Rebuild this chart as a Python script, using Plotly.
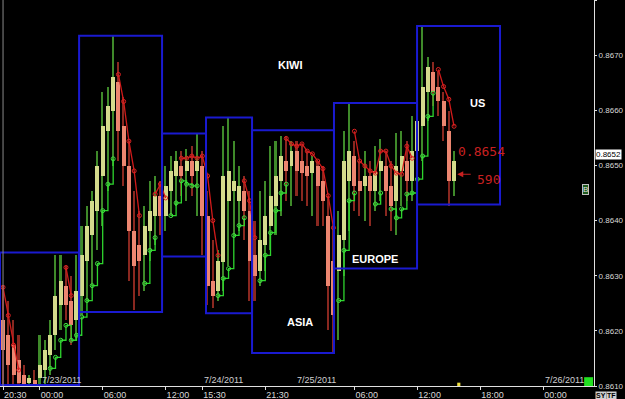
import plotly.graph_objects as go

# ---------------- data ----------------
# 30-minute bars, time axis in hours after 20:30 on 7/22/2011
hours = [i * 0.5 for i in range(87)]

open_ = [0.86219, 0.86192, 0.86174, 0.86147, 0.86120, 0.86105, 0.86111, 0.86114, 0.86129, 0.86156,
         0.86192, 0.86246, 0.86282, 0.86255, 0.86219, 0.86264, 0.86327, 0.86373, 0.86418, 0.86481,
         0.86562, 0.86598, 0.86652, 0.86571, 0.86499, 0.86382, 0.86355, 0.86337, 0.86382, 0.86409,
         0.86445, 0.86409, 0.86454, 0.86481, 0.86499, 0.86490, 0.86508, 0.86490, 0.86499, 0.86409,
         0.86291, 0.86273, 0.86324, 0.86436, 0.86454, 0.86436, 0.86454, 0.86418, 0.86337, 0.86309,
         0.86355, 0.86391, 0.86427, 0.86472, 0.86508, 0.86499, 0.86526, 0.86508, 0.86499, 0.86486,
         0.86499, 0.86472, 0.86409, 0.86327, 0.86309, 0.86364, 0.86472, 0.86517, 0.86472, 0.86463,
         0.86481, 0.86454, 0.86490, 0.86499, 0.86463, 0.86436, 0.86490, 0.86508, 0.86472, 0.86526,
         0.86571, 0.86634, 0.86670, 0.86643, 0.86616, 0.86562, 0.86472]
high = [0.86282, 0.86255, 0.86219, 0.86192, 0.86138, 0.86120, 0.86129, 0.86192, 0.86183, 0.86219,
        0.86337, 0.86337, 0.86318, 0.86300, 0.86337, 0.86391, 0.86427, 0.86454, 0.86526, 0.86634,
        0.86643, 0.86737, 0.86688, 0.86625, 0.86544, 0.86454, 0.86418, 0.86427, 0.86472, 0.86481,
        0.86472, 0.86499, 0.86517, 0.86526, 0.86526, 0.86530, 0.86535, 0.86557, 0.86526, 0.86454,
        0.86364, 0.86346, 0.86571, 0.86586, 0.86544, 0.86499, 0.86481, 0.86454, 0.86400, 0.86454,
        0.86472, 0.86535, 0.86544, 0.86553, 0.86553, 0.86544, 0.86544, 0.86535, 0.86526, 0.86517,
        0.86508, 0.86499, 0.86445, 0.86391, 0.86418, 0.86562, 0.86611, 0.86544, 0.86508, 0.86526,
        0.86508, 0.86535, 0.86548, 0.86526, 0.86508, 0.86558, 0.86562, 0.86544, 0.86589, 0.86598,
        0.86752, 0.86697, 0.86688, 0.86670, 0.86634, 0.86598, 0.86526]
low = [0.86102, 0.86100, 0.86100, 0.86100, 0.86100, 0.86100, 0.86100, 0.86100, 0.86102, 0.86120,
       0.86165, 0.86201, 0.86219, 0.86174, 0.86183, 0.86228, 0.86255, 0.86282, 0.86346, 0.86391,
       0.86454, 0.86499, 0.86508, 0.86463, 0.86291, 0.86237, 0.86264, 0.86273, 0.86327, 0.86355,
       0.86373, 0.86382, 0.86409, 0.86427, 0.86445, 0.86436, 0.86445, 0.86409, 0.86337, 0.86246,
       0.86241, 0.86255, 0.86273, 0.86318, 0.86373, 0.86382, 0.86364, 0.86255, 0.86255, 0.86282,
       0.86309, 0.86346, 0.86373, 0.86409, 0.86436, 0.86427, 0.86445, 0.86436, 0.86427, 0.86409,
       0.86391, 0.86391, 0.86201, 0.86160, 0.86183, 0.86300, 0.86382, 0.86418, 0.86409, 0.86400,
       0.86391, 0.86418, 0.86436, 0.86409, 0.86382, 0.86373, 0.86427, 0.86436, 0.86436, 0.86463,
       0.86508, 0.86580, 0.86607, 0.86589, 0.86544, 0.86427, 0.86445]
close = [0.86165, 0.86138, 0.86120, 0.86105, 0.86102, 0.86114, 0.86102, 0.86138, 0.86165, 0.86192,
         0.86264, 0.86291, 0.86246, 0.86210, 0.86273, 0.86337, 0.86391, 0.86436, 0.86499, 0.86571,
         0.86607, 0.86661, 0.86562, 0.86499, 0.86382, 0.86318, 0.86327, 0.86391, 0.86418, 0.86445,
         0.86409, 0.86463, 0.86490, 0.86508, 0.86481, 0.86508, 0.86481, 0.86508, 0.86409, 0.86282,
         0.86264, 0.86327, 0.86481, 0.86490, 0.86472, 0.86463, 0.86418, 0.86327, 0.86300, 0.86364,
         0.86409, 0.86445, 0.86481, 0.86517, 0.86490, 0.86526, 0.86490, 0.86486, 0.86481, 0.86508,
         0.86463, 0.86436, 0.86282, 0.86228, 0.86373, 0.86508, 0.86526, 0.86463, 0.86454, 0.86481,
         0.86454, 0.86490, 0.86508, 0.86454, 0.86427, 0.86499, 0.86517, 0.86472, 0.86526, 0.86580,
         0.86643, 0.86679, 0.86634, 0.86616, 0.86571, 0.86472, 0.86508]

# trailing stops (bar index -> price)
red_stop_pts = {0: 0.86279, 1: 0.86228, 2: 0.86174, 3: 0.86129,
                12: 0.86315, 13: 0.86264,
                22: 0.86665, 23: 0.86616, 24: 0.86544, 25: 0.86490, 26: 0.86409,
                29: 0.86448, 30: 0.86466, 31: 0.86441,
                34: 0.86513, 35: 0.86513, 36: 0.86517, 37: 0.86513, 38: 0.86517, 39: 0.86481,
                40: 0.86400, 41: 0.86337,
                46: 0.86472, 47: 0.86436, 48: 0.86369,
                54: 0.86549, 55: 0.86539, 56: 0.86535, 57: 0.86539, 58: 0.86526, 59: 0.86521,
                60: 0.86508, 61: 0.86494, 62: 0.86445, 63: 0.86387,
                67: 0.86562, 68: 0.86508, 69: 0.86499, 70: 0.86490, 71: 0.86486, 72: 0.86526,
                73: 0.86526, 74: 0.86499, 75: 0.86486, 76: 0.86484,
                77: 0.86535, 78: 0.86513,
                83: 0.86674, 84: 0.86643, 85: 0.86620, 86: 0.86571}
green_stop_pts = {9: 0.86132, 10: 0.86152, 11: 0.86183, 12: 0.86210, 13: 0.86183, 14: 0.86192,
                  15: 0.86225, 16: 0.86255, 17: 0.86282, 18: 0.86322, 19: 0.86418, 20: 0.86466,
                  21: 0.86512,
                  27: 0.86286, 28: 0.86346, 29: 0.86369,
                  32: 0.86409, 33: 0.86432, 34: 0.86472, 35: 0.86466, 36: 0.86463, 37: 0.86463,
                  41: 0.86264, 42: 0.86295, 43: 0.86313, 44: 0.86373, 45: 0.86391, 46: 0.86405,
                  49: 0.86291, 50: 0.86337, 51: 0.86378, 52: 0.86418, 53: 0.86450, 54: 0.86466,
                  64: 0.86255, 65: 0.86346, 66: 0.86436, 67: 0.86450,
                  71: 0.86430, 72: 0.86450,
                  74: 0.86421, 75: 0.86405, 76: 0.86421, 77: 0.86448, 78: 0.86450, 79: 0.86475,
                  80: 0.86517, 81: 0.86589, 82: 0.86631}

# sessions: start hour, end hour, low, high
session_start = [-0.29, 7.25, 15.16, 19.35, 23.74, 31.55, 39.47]
session_end = [7.25, 15.16, 19.35, 23.74, 31.55, 39.47, 47.38]
session_low = [0.86102, 0.86234, 0.86335, 0.86232, 0.86160, 0.86313, 0.86429]
session_high = [0.86342, 0.86735, 0.86558, 0.86587, 0.86564, 0.86613, 0.86753]

label_text = ["KIWI", "ASIA", "EUROPE", "US"]
label_x = [27.36, 28.3, 35.46, 45.19]
label_y = [0.86683, 0.86216, 0.86331, 0.86614]

tick_hours = [0, 3.5, 9.5, 15.5, 19, 25, 33.5, 39.5, 45.5, 51.5]
tick_text = ["20:30", "00:00", "06:00", "12:00", "15:30", "21:30", "06:00", "12:00", "18:00", "00:00"]
date_text = ["7/23/2011", "7/24/2011", "7/25/2011", "7/26/2011"]
date_hours = [3.5, 19.0, 27.8, 51.5]

y_ticks = [0.8610, 0.8620, 0.8630, 0.8640, 0.8650, 0.8660, 0.8670, 0.8680]
last_price = 0.8652
target_text = "0.8654"
target_price = 0.86526
pips_text = "590"
pips_price = 0.86475
arrow_price = 0.86484

# ---------------- figure ----------------
n = len(hours)
red_stop = [red_stop_pts.get(i) for i in range(n)]
green_stop = [green_stop_pts.get(i) for i in range(n)]
up = [c >= o for o, c in zip(open_, close)]
wick_col = ["#3f8a2a" if u else "#8a2820" for u in up]
body_col = ["#d4da8c" if u else "#ec8670" for u in up]

FONT = "Liberation Sans, Arial, sans-serif"
fig = go.Figure()

fig.add_trace(go.Bar(x=hours, y=[h - l for h, l in zip(high, low)], base=low, width=0.15,
                     marker=dict(color=wick_col, line_width=0), hoverinfo="skip"))
fig.add_trace(go.Bar(x=hours, y=[max(abs(c - o), 0.00002) for o, c in zip(open_, close)],
                     base=[min(o, c) for o, c in zip(open_, close)], width=0.38,
                     marker=dict(color=body_col, line_width=0), hoverinfo="skip"))
fig.add_trace(go.Scatter(x=hours, y=red_stop, mode="lines+markers",
                         line=dict(color="#d01a1a", width=1.3),
                         marker=dict(size=4, symbol="circle-open", color="#e02222", line_width=1)))
fig.add_trace(go.Scatter(x=hours, y=green_stop, mode="lines+markers", line_shape="hv",
                         line=dict(color="#2ed42e", width=1.3),
                         marker=dict(size=4, symbol="circle-open", color="#40e040", line_width=1)))

shapes = []
for s, e, lo, hi in zip(session_start, session_end, session_low, session_high):
    shapes.append(dict(type="rect", x0=s, x1=e, y0=lo, y1=hi, xref="x", yref="y",
                       line=dict(color="#1a1ad0", width=2), fillcolor="rgba(0,0,0,0)"))
shapes.append(dict(type="line", x0=hours[0], x1=hours[0], y0=0, y1=1, xref="x", yref="paper",
                   line=dict(color="#8a8a8a", width=1)))
shapes.append(dict(type="rect", x0=55.4, x1=56.25, y0=0.8610, y1=0.86116, xref="x", yref="y",
                   line_width=0, fillcolor="#22e022"))
shapes.append(dict(type="rect", x0=43.3, x1=43.6, y0=0.8610, y1=0.86106, xref="x", yref="y",
                   line_width=0, fillcolor="#f0e040"))

ann = []
for t, x, y in zip(label_text, label_x, label_y):
    ann.append(dict(x=x, y=y, text=f"<b>{t}</b>", showarrow=False,
                    font=dict(family=FONT, size=11, color="white")))
for t, x in zip(date_text, date_hours):
    ann.append(dict(x=x, y=0.86111, text=t, showarrow=False, xanchor="left", yanchor="middle",
                    font=dict(family=FONT, size=9, color="#d0d0d0")))
ann.append(dict(x=45.57, y=target_price, text=target_text, showarrow=False,
                font=dict(family="DejaVu Sans Mono", size=13, color="#c82020")))
ann.append(dict(x=46.24, y=pips_price, text=pips_text, showarrow=False,
                font=dict(family="DejaVu Sans Mono", size=13, color="#c82020")))
ann.append(dict(x=43.3, y=arrow_price, ax=15, ay=0, text="", showarrow=True, arrowhead=2,
                arrowsize=1, arrowwidth=1.2, arrowcolor="#c82020"))
ann.append(dict(x=1.0, xref="paper", y=last_price, text=f"{last_price:.4f}", showarrow=False,
                xanchor="left", xshift=1, bgcolor="white",
                font=dict(family=FONT, size=8, color="black"), borderpad=0))
ann.append(dict(x=0.9916, xref="paper", y=0.86456, text="B", showarrow=False,
                bgcolor="#1e5a1e", bordercolor="#c0c0c0", borderwidth=1, borderpad=0,
                font=dict(family=FONT, size=8, color="#e0e0e0")))
ann.append(dict(x=1.0, xref="paper", y=-0.012, yref="paper", text="<b>SY</b>", showarrow=False,
                xanchor="left", yanchor="top", xshift=1, bgcolor="#d0d0d0", borderpad=0,
                font=dict(family=FONT, size=7, color="black")))
ann.append(dict(x=1.0, xref="paper", y=-0.012, yref="paper", text="<b>TF</b>", showarrow=False,
                xanchor="left", yanchor="top", xshift=12, bgcolor="#d0d0d0", borderpad=0,
                font=dict(family=FONT, size=7, color="black")))

fig.update_layout(
    width=625, height=399,
    margin=dict(l=0, r=31, t=0, b=13),
    paper_bgcolor="black", plot_bgcolor="black",
    barmode="overlay", bargap=0, showlegend=False,
    shapes=shapes, annotations=ann,
    font=dict(family=FONT, size=9, color="#d0d0d0"),
    xaxis=dict(range=[-0.29, 56.34], tickmode="array", tickvals=tick_hours, ticktext=tick_text,
               showgrid=False, zeroline=False, showline=True, linecolor="#e0e0e0", linewidth=1,
               ticks="outside", ticklen=3, tickcolor="#e0e0e0", ticklabelposition="outside right",
               tickfont=dict(family=FONT, size=9, color="#d8d8d8"), automargin=False),
    yaxis=dict(range=[0.8610, 0.8680], side="right", tickmode="array", tickvals=y_ticks,
               ticktext=[f"{v:.4f}" for v in y_ticks], showgrid=False, zeroline=False,
               showline=True, linecolor="#e0e0e0", linewidth=1, ticks="outside", ticklen=2,
               tickcolor="#e0e0e0", tickfont=dict(family=FONT, size=8, color="#d8d8d8"),
               automargin=False),
)

fig.write_html("out.html")
